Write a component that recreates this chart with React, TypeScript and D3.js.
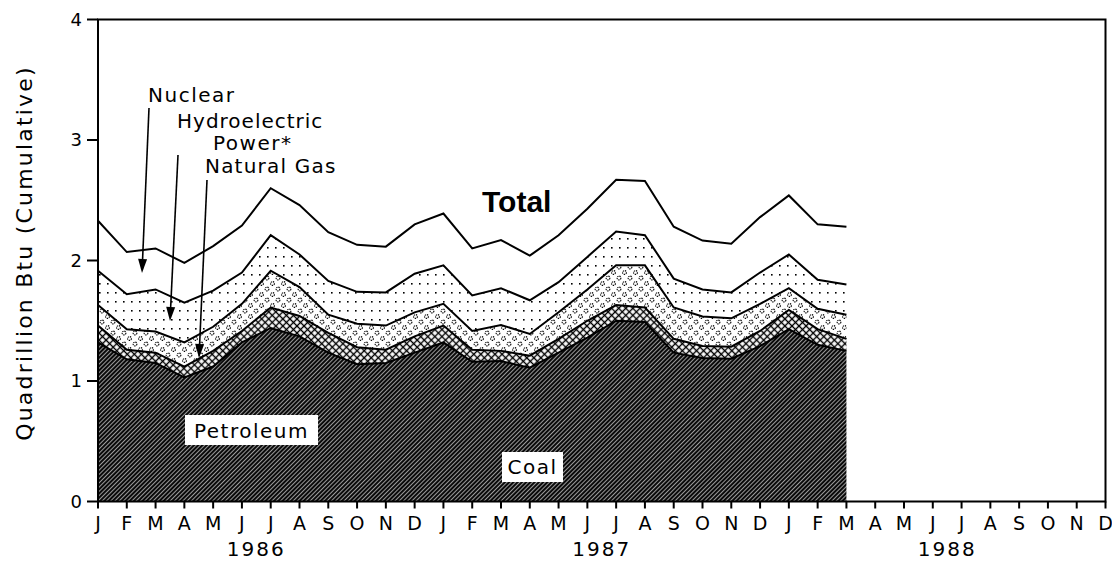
import * as d3 from "d3";

// monthly values, Jan 1986 .. Mar 1988 (quadrillion Btu)
const coal = [1.32, 1.18, 1.15, 1.03, 1.12, 1.32, 1.44, 1.37, 1.235, 1.14, 1.15, 1.235, 1.32, 1.16, 1.165, 1.11, 1.235, 1.36, 1.5, 1.49, 1.235, 1.19, 1.185, 1.29, 1.43, 1.3, 1.25];
const petroleum = [0.14, 0.08, 0.085, 0.09, 0.13, 0.095, 0.17, 0.17, 0.165, 0.14, 0.11, 0.135, 0.14, 0.1, 0.085, 0.1, 0.115, 0.14, 0.13, 0.12, 0.115, 0.1, 0.1, 0.125, 0.16, 0.13, 0.1];
const naturalGas = [0.17, 0.17, 0.175, 0.2, 0.2, 0.225, 0.305, 0.24, 0.15, 0.195, 0.2, 0.2, 0.18, 0.155, 0.215, 0.18, 0.22, 0.26, 0.33, 0.35, 0.26, 0.245, 0.235, 0.225, 0.18, 0.17, 0.2];
const hydro = [0.285, 0.29, 0.35, 0.33, 0.3, 0.26, 0.295, 0.27, 0.28, 0.265, 0.275, 0.32, 0.32, 0.295, 0.305, 0.28, 0.25, 0.27, 0.28, 0.25, 0.24, 0.225, 0.215, 0.26, 0.28, 0.24, 0.25];
const nuclear = [0.415, 0.35, 0.34, 0.33, 0.37, 0.39, 0.39, 0.41, 0.405, 0.39, 0.38, 0.41, 0.43, 0.39, 0.4, 0.37, 0.39, 0.4, 0.43, 0.45, 0.43, 0.405, 0.405, 0.46, 0.49, 0.46, 0.48];

const monthLabels = ["J", "F", "M", "A", "M", "J", "J", "A", "S", "O", "N", "D"];
const years = ["1986", "1987", "1988"];
const yTicks = [0, 1, 2, 3, 4];

const keys = ["coal", "petroleum", "naturalGas", "hydro", "nuclear"];
const fills: Record<string, string> = {
  coal: "url(#pCoal)",
  petroleum: "url(#pPetro)",
  naturalGas: "url(#pGas)",
  hydro: "url(#pHydro)",
  nuclear: "#fff",
};

const FONT = "'DejaVu Sans', sans-serif";

const Arrow = ({x1, y1, x2, y2}: {x1: number; y1: number; x2: number; y2: number}) => {
  const ang = Math.atan2(y2 - y1, x2 - x1);
  const len = 14, half = 4.5;
  const bx = x2 - len * Math.cos(ang), by = y2 - len * Math.sin(ang);
  const px = -Math.sin(ang) * half, py = Math.cos(ang) * half;
  return (
    <g>
      <line x1={x1} y1={y1} x2={bx} y2={by} stroke="#000" strokeWidth={1.6} />
      <polygon points={`${x2},${y2} ${bx + px},${by + py} ${bx - px},${by - py}`} fill="#000" />
    </g>
  );
};

export default function App() {
  const nMonths = monthLabels.length * years.length;
  const x = d3.scaleLinear().domain([0, nMonths - 1]).range([98, 1105.5]);
  const y = d3.scaleLinear().domain([0, 4]).range([501.5, 19.5]);

  const table = coal.map((c, i) => ({
    i,
    coal: c,
    petroleum: petroleum[i],
    naturalGas: naturalGas[i],
    hydro: hydro[i],
    nuclear: nuclear[i],
  }));
  const series = d3.stack<any>().keys(keys)(table);

  const area = d3.area<any>().x((d) => x(d.data.i)).y0((d) => y(d[0])).y1((d) => y(d[1]));
  const line = d3.line<any>().x((d) => x(d.data.i)).y((d) => y(d[1]));

  const monthIdx = d3.range(nMonths);

  return (
    <svg width={1112} height={563} style={{position: "absolute", left: 0, top: 0, background: "#fff"}}>
      <defs>
        <pattern id="pCoal" patternUnits="userSpaceOnUse" width={3} height={3} patternTransform="rotate(45)">
          <rect width={3} height={3} fill="#0a0a0a" />
          <rect width={0.9} height={3} fill="#aaa" />
        </pattern>
        <pattern id="pPetro" patternUnits="userSpaceOnUse" width={5} height={5} patternTransform="rotate(45)">
          <rect width={5} height={5} fill="#000" />
          <rect x={1.2} y={1.2} width={3.6} height={3.6} fill="#fff" />
        </pattern>
        <pattern id="pGas" patternUnits="userSpaceOnUse" width={11} height={11}>
          <rect width={11} height={11} fill="#fff" />
          <circle cx={3} cy={3} r={1.9} fill="none" stroke="#000" strokeWidth={1.1} strokeDasharray="1.3 0.8" />
          <circle cx={8.5} cy={8.5} r={1.9} fill="none" stroke="#000" strokeWidth={1.1} strokeDasharray="1.3 0.8" />
        </pattern>
        <pattern id="pHydro" patternUnits="userSpaceOnUse" width={8} height={9}>
          <rect width={8} height={9} fill="#fff" />
          <rect x={3} y={4} width={1.6} height={1.6} fill="#000" />
        </pattern>
      </defs>

      {series.map((s) => (
        <path key={s.key} d={area(s) || ""} fill={fills[s.key]} />
      ))}
      {series.map((s) => (
        <path key={"l" + s.key} d={line(s) || ""} fill="none" stroke="#000" strokeWidth={2} />
      ))}

      {/* frame */}
      <rect x={x(0)} y={y(4)} width={x(nMonths - 1) - x(0)} height={y(0) - y(4)} fill="none" stroke="#000" strokeWidth={2} />

      {/* y axis */}
      {yTicks.map((t) => (
        <g key={t}>
          <line x1={x(0) - 11} x2={x(0)} y1={y(t)} y2={y(t)} stroke="#000" strokeWidth={2} />
          <text x={x(0) - 16} y={y(t)} dy="0.35em" textAnchor="end" fontFamily={FONT} fontSize={18}>{t}</text>
        </g>
      ))}
      <text transform={`translate(32,253) rotate(-90)`} textAnchor="middle" fontFamily={FONT} fontSize={22} letterSpacing={2.2}>
        Quadrillion Btu (Cumulative)
      </text>

      {/* x axis */}
      {monthIdx.map((i) => (
        <g key={i}>
          <line x1={x(i)} x2={x(i)} y1={y(0)} y2={y(0) + 7} stroke="#000" strokeWidth={2} />
          <text x={x(i)} y={530} textAnchor="middle" fontFamily={FONT} fontSize={19}>{monthLabels[i % 12]}</text>
        </g>
      ))}
      {years.map((yr, k) => (
        <text key={yr} x={x(k * 12 + 5.5)} y={556} textAnchor="middle" fontFamily={FONT} fontSize={20} letterSpacing={2}>{yr}</text>
      ))}

      {/* labels */}
      <text x={148} y={102} fontFamily={FONT} fontSize={20} letterSpacing={1.5}>Nuclear</text>
      <text x={177} y={128} fontFamily={FONT} fontSize={20} letterSpacing={1}>Hydroelectric</text>
      <text x={213} y={150} fontFamily={FONT} fontSize={20} letterSpacing={1.5}>Power*</text>
      <text x={205} y={173} fontFamily={FONT} fontSize={20} letterSpacing={1.2}>Natural Gas</text>
      <Arrow x1={149} y1={108} x2={142} y2={273} />
      <Arrow x1={178} y1={155} x2={170} y2={321} />
      <Arrow x1={207} y1={180} x2={199} y2={358} />

      <text x={482} y={212} fontFamily="'Liberation Sans', Arial, sans-serif" fontWeight="bold" fontSize={30}>Total</text>

      <rect x={185} y={415} width={133} height={30} fill="#fff" />
      <text x={251.5} y={438} textAnchor="middle" fontFamily={FONT} fontSize={20} letterSpacing={1.5}>Petroleum</text>
      <rect x={502} y={452} width={61} height={30} fill="#fff" />
      <text x={532.5} y={474} textAnchor="middle" fontFamily={FONT} fontSize={20} letterSpacing={1.5}>Coal</text>
    </svg>
  );
}
